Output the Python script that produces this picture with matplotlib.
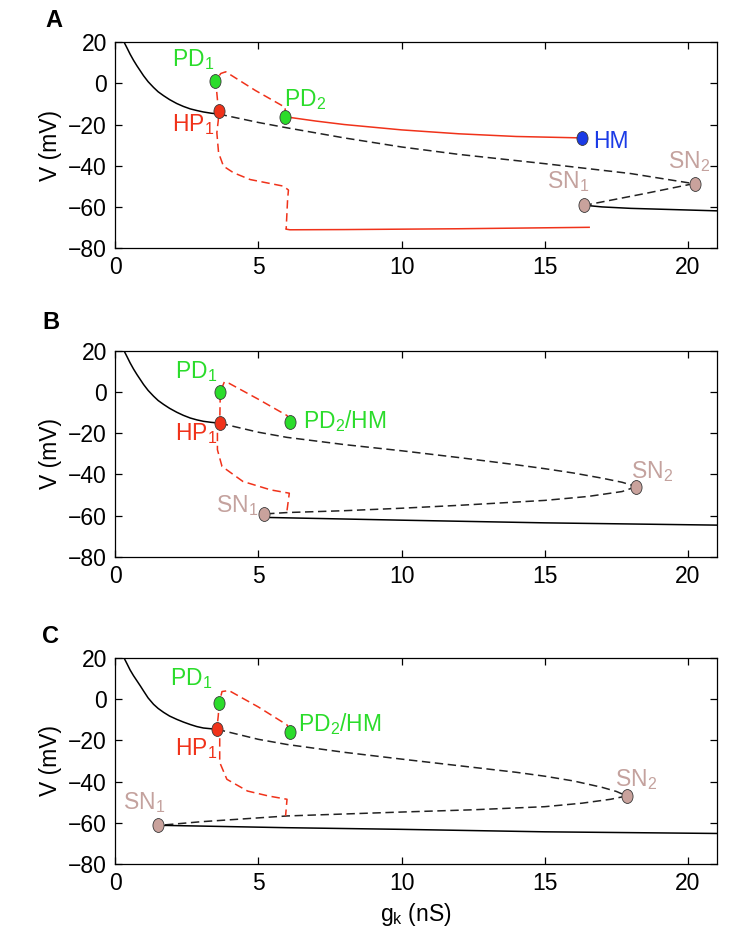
import numpy as np
import matplotlib
matplotlib.use("Agg")
import matplotlib.pyplot as plt
from matplotlib.path import Path

plt.rcParams['font.family'] = ['Liberation Sans', 'DejaVu Sans']
plt.rcParams['mathtext.fontset'] = 'custom'
plt.rcParams['mathtext.rm'] = 'Liberation Sans'
plt.rcParams['mathtext.it'] = 'Liberation Sans:italic'
plt.rcParams['mathtext.default'] = 'regular'

# ---- data: (g_k [nS], V [mV]) ----
# panel A
A_stable_top = [(0.31, 20), (0.42, 17), (0.52, 14.2), (0.64, 11.2), (0.76, 8.5), (0.88, 6),
                (0.99, 3.7), (1.15, 0.8), (1.34, -2.0), (1.5, -4.1), (1.69, -6.0),
                (1.9, -7.9), (2.15, -9.8), (2.38, -11.2), (2.62, -12.4), (2.85, -13.2),
                (3.08, -13.9), (3.35, -14.5), (3.61, -14.9)]
A_unstable_mid = [(3.61, -14.9), (5, -19), (6, -21.6), (8, -26.5), (10, -30.9),
                  (12, -34.5), (15, -39), (18, -43.8), (20.2, -48.7)]
A_unstable_low = [(20.2, -48.7), (18.5, -53.5), (16.4, -59.2)]
A_stable_low = [(16.4, -59.2), (17, -60.0), (18, -60.7), (19.5, -61.3), (21, -61.9)]
A_red_dash = [(5.92, -16.2), (5.94, -11.7), (4.9, -3.5), (3.86, 5.6), (3.69, 4.8),
              (3.52, 1.5), (3.54, -3.3), (3.61, -13.8), (3.6, -18), (3.55, -24),
              (3.61, -33.7), (3.78, -40.2), (4.13, -43.4), (4.71, -46.7), (5.87, -49.9),
              (6.05, -51.8), (6.02, -56.4), (5.97, -70.8)]
A_red_solid_top = [(5.92, -16.2), (7, -18.3), (8, -20), (10, -22.6), (12, -24.5),
                   (14, -25.8), (16.3, -26.5)]
A_red_solid_low = [(5.97, -70.8), (6.1, -71.1), (8, -71.0), (12, -70.6), (16.55, -69.9)]

# panel B
B_stable_top = [(0.31, 20), (0.42, 17), (0.52, 14.2), (0.64, 11.2), (0.76, 8.5), (0.88, 6),
                (0.99, 3.7), (1.15, 0.8), (1.34, -2.0), (1.5, -4.1), (1.69, -6.0),
                (1.9, -7.9), (2.15, -9.8), (2.38, -11.3), (2.62, -12.6), (2.85, -13.5),
                (3.08, -14.2), (3.35, -14.7), (3.65, -15.1)]
B_unstable_mid = [(3.65, -15.1), (5, -19.5), (6, -22), (8, -25.5), (10, -28.5),
                  (12, -31.8), (14, -35.3), (15, -37.2), (16, -39.3), (17, -41.8),
                  (17.7, -43.8), (18.2, -45.9)]
B_unstable_low = [(18.2, -45.9), (17.7, -48.3), (16.5, -50.7), (15, -52.6), (12, -55),
                  (10, -56.4), (8, -57.6), (6, -58.5), (5.19, -59.2)]
B_stable_low = [(5.19, -59.2), (5.4, -60.9), (10, -62.2), (15, -63.5), (21, -64.6)]
B_red_dash = [(6.1, -14.3), (6.0, -11.4), (5.0, -3.5), (3.97, 4.3), (3.81, 4.9),
              (3.67, 0.0), (3.66, -8), (3.65, -15), (3.57, -18.2), (3.57, -28),
              (3.73, -36.1), (4.46, -43.4), (5.43, -47.5), (6.08, -49.1), (6.0, -57.5),
              (6.1, -57.6)]

# panel C
C_stable_top = [(0.31, 20), (0.42, 17), (0.52, 14.2), (0.64, 11.4), (0.76, 8.9), (0.88, 6.4),
                (0.99, 4.0), (1.15, 0.6), (1.34, -2.5), (1.5, -4.5), (1.69, -6.4),
                (1.9, -8.2), (2.15, -9.8), (2.38, -11.1), (2.62, -12.3), (2.85, -13.3),
                (3.08, -14.0), (3.3, -14.3), (3.55, -14.6)]
C_unstable_mid = [(3.55, -14.6), (5, -19.5), (6, -22), (8, -25.8), (10, -29.1),
                  (12, -32.3), (14, -35.5), (15, -37.4), (16, -39.7), (17, -42.8),
                  (17.5, -44.8), (17.86, -47.0)]
C_unstable_low = [(17.86, -47.0), (17.3, -48.6), (16.3, -50.5), (15, -52.2), (12.5, -53.7),
                  (10, -54.8), (6, -56.7), (3, -59.5), (1.51, -61.3)]
C_stable_low = [(1.51, -61.3), (1.8, -61.3), (6, -62.4), (10, -63.2), (15, -64.4),
                (21, -65.2)]
C_red_dash = [(6.12, -15.8), (6.0, -12.5), (5.0, -3.8), (3.97, 4.2), (3.73, 3.7),
              (3.63, -2.1), (3.6, -8), (3.55, -14.5), (3.65, -17.7), (3.65, -30.7),
              (3.9, -38.9), (4.62, -44.6), (5.35, -47), (6.0, -48.6), (5.95, -56.7)]

# special points (g, V) per panel
A_hp1, A_pd1, A_pd2, A_hm, A_sn1, A_sn2 = (3.61, -13.6), (3.49, 1.1), (5.92, -16.4), (16.3, -26.5), (16.38, -59.3), (20.23, -48.9)
B_hp1, B_pd1, B_pd2, B_sn1, B_sn2 = (3.65, -15.0), (3.67, 0.0), (6.1, -14.3), (5.19, -59.2), (18.2, -45.9)
C_hp1, C_pd1, C_pd2, C_sn1, C_sn2 = (3.55, -14.5), (3.63, -2.1), (6.12, -15.8), (1.51, -61.3), (17.86, -47.0)

xticks = [0, 5, 10, 15, 20]
yticks = [20, 0, -20, -40, -60, -80]

GREEN = '#2bdc2b'
RED = '#f0321a'
BLUE = '#1b3be6'
SNFILL = '#c9a29c'
SNTEXT = '#c4a29e'
FS = 16.5

circ = Path.unit_circle()
ellipse = Path(circ.vertices * np.array([0.8, 1.0]), circ.codes)


def xy(pts):
    a = np.array(pts, dtype=float)
    return a[:, 0], a[:, 1]


def dashed(ax, pts, color, lw=1.1):
    g, v = xy(pts)
    ln, = ax.plot(g, v, color=color, lw=lw)
    ln.set_dashes((5.5, 3.0))


def solid(ax, pts, color, lw=1.1):
    g, v = xy(pts)
    ax.plot(g, v, color=color, lw=lw)


def dot(ax, p, fc):
    ax.plot([p[0]], [p[1]], marker=ellipse, ms=10, mfc=fc, mec='#3a3a3a',
            mew=0.6, ls='none', zorder=5)


def label(ax, x, y, s, color, ha='left'):
    ax.text(x, y, s, color=color, fontsize=FS, ha=ha, va='center')


fig = plt.figure(figsize=(7.29, 9.47), dpi=100)
left, width = 0.158, 0.825
ax_a = fig.add_axes([left, 0.738, width, 0.2175])
ax_b = fig.add_axes([left, 0.412, width, 0.2175])
ax_c = fig.add_axes([left, 0.0877, width, 0.2175])

for ax in (ax_a, ax_b, ax_c):
    ax.set_xlim(0, 21)
    ax.set_ylim(-80, 20)
    ax.set_xticks(xticks)
    ax.set_yticks(yticks)
    ax.tick_params(direction='in', top=True, right=True, length=5, width=0.9,
                   labelsize=FS, pad=6)
    for sp in ax.spines.values():
        sp.set_linewidth(0.9)
    ax.set_ylabel('V (mV)', fontsize=FS, labelpad=4)

# ---- A ----
ax = ax_a
solid(ax, A_stable_top, 'black')
dashed(ax, A_unstable_mid, '#222222')
dashed(ax, A_unstable_low, '#222222')
solid(ax, A_stable_low, 'black')
dashed(ax, A_red_dash, RED)
solid(ax, A_red_solid_top, RED)
solid(ax, A_red_solid_low, RED)
dot(ax, A_pd1, GREEN)
dot(ax, A_pd2, GREEN)
dot(ax, A_hp1, RED)
dot(ax, A_hm, BLUE)
dot(ax, A_sn1, SNFILL)
dot(ax, A_sn2, SNFILL)
label(ax, 3.45, 11.5, 'PD$_1$', GREEN, ha='right')
label(ax, 3.45, -20, 'HP$_1$', RED, ha='right')
label(ax, 5.9, -8, 'PD$_2$', GREEN)
label(ax, 16.7, -28.3, 'HM', BLUE)
label(ax, 16.55, -47.5, 'SN$_1$', SNTEXT, ha='right')
label(ax, 19.3, -38, 'SN$_2$', SNTEXT)

# ---- B ----
ax = ax_b
solid(ax, B_stable_top, 'black')
dashed(ax, B_unstable_mid, '#222222')
dashed(ax, B_unstable_low, '#222222')
solid(ax, B_stable_low, 'black')
dashed(ax, B_red_dash, RED)
dot(ax, B_pd1, GREEN)
dot(ax, B_pd2, GREEN)
dot(ax, B_hp1, RED)
dot(ax, B_sn1, SNFILL)
dot(ax, B_sn2, SNFILL)
label(ax, 3.55, 10, 'PD$_1$', GREEN, ha='right')
label(ax, 3.55, -20, 'HP$_1$', RED, ha='right')
label(ax, 6.55, -14.2, 'PD$_2$/HM', GREEN)
label(ax, 5.0, -55, 'SN$_1$', SNTEXT, ha='right')
label(ax, 18.0, -38.5, 'SN$_2$', SNTEXT)

# ---- C ----
ax = ax_c
solid(ax, C_stable_top, 'black')
dashed(ax, C_unstable_mid, '#222222')
dashed(ax, C_unstable_low, '#222222')
solid(ax, C_stable_low, 'black')
dashed(ax, C_red_dash, RED)
dot(ax, C_pd1, GREEN)
dot(ax, C_pd2, GREEN)
dot(ax, C_hp1, RED)
dot(ax, C_sn1, SNFILL)
dot(ax, C_sn2, SNFILL)
label(ax, 3.4, 10, 'PD$_1$', GREEN, ha='right')
label(ax, 3.55, -24, 'HP$_1$', RED, ha='right')
label(ax, 6.4, -12, 'PD$_2$/HM', GREEN)
label(ax, 0.28, -50.2, 'SN$_1$', SNTEXT)
label(ax, 17.45, -39, 'SN$_2$', SNTEXT)
ax.set_xlabel('g$_k$ (nS)', fontsize=FS, labelpad=4)

fig.text(0.062, 0.978, 'A', fontsize=17, fontweight='bold', va='center')
fig.text(0.058, 0.659, 'B', fontsize=17, fontweight='bold', va='center')
fig.text(0.058, 0.328, 'C', fontsize=17, fontweight='bold', va='center')

fig.savefig('out.png', dpi=100)
